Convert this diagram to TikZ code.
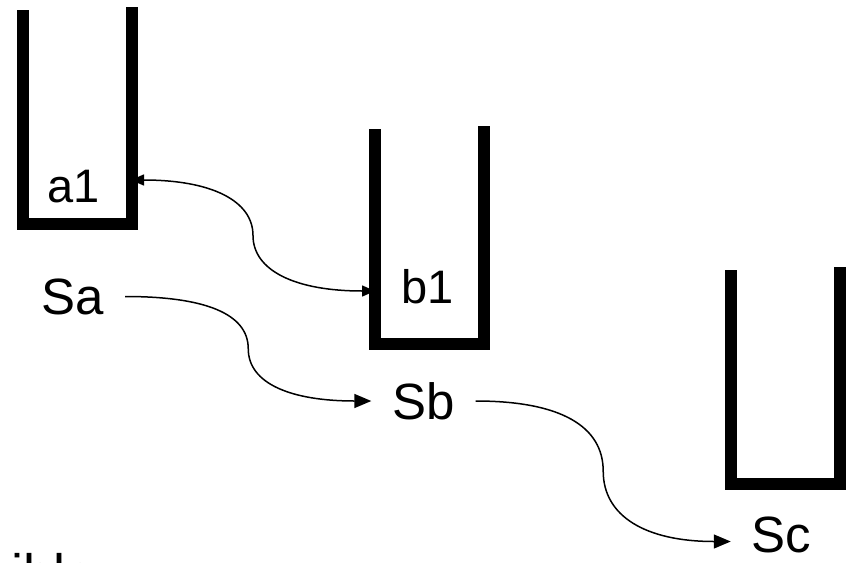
\documentclass[tikz,border=0pt]{standalone}
\usepackage{fontspec}
\setmainfont{Liberation Sans}
\usetikzlibrary{calc,arrows.meta}
\def\tray(#1,#2,#3){\draw[tray] (#1,#2) -- (#1,#3) -- ({#1+108.5},#3) -- ({#1+108.5},{#2-3});}

\begin{document}
\begin{tikzpicture}[x=1pt,y=-1pt,
		tray/.style={line width=12pt, line join=miter},
		state/.style={inner sep=0pt, outer sep=21pt, font=\fontsize{51}{60}\selectfont},
		item/.style={inner sep=0pt, font=\fontsize{47}{56}\selectfont},
		flow/.style={line width=1.5pt, -{Triangle[length=17pt,width=14pt]}},
		link/.style={line width=1.5pt, {Triangle[length=13pt,width=11pt]}-{Triangle[length=13pt,width=11pt]}}]
		%%%%% START %%%%%
		
		\useasboundingbox (0,0) rectangle (851,562);
		
		\node[item] (a1) at (74,187) {a1};
		\node[item] (b1) at (427.5,287) {b1};
		\coordinate (Aport) at (131,180);
		\coordinate (Bport) at (375,291);
		
		\node[state] (Sa) at (73,296.5) {Sa};
		\node[state] (Sb) at (423.5,401) {Sb};
		\node[state] (Sc) at (781.5,534.5) {Sc};
		
		\node[anchor=base west, inner sep=0pt, font=\fontsize{54}{64}\selectfont] (note) at (-54.6,592) {visible};
		
		\draw[link] (Aport) .. controls +(80,0) and +(0,-35) .. ($(Aport)!.5!(Bport)$) .. controls +(0,35) and +(-80,0) .. (Bport);
		\draw[flow] (Sa.east) .. controls +(80,0) and +(0,-35) .. ($(Sa.east)!.5!(Sb.west)$) .. controls +(0,35) and +(-80,0) .. (Sb.west);
		\draw[flow] (Sb.east) .. controls +(85,0) and +(0,-45) .. ($(Sb.east)!.5!([yshift=-7pt]Sc.west)$) .. controls +(0,45) and +(-85,0) .. ([yshift=-7pt]Sc.west);
		
		\tray(23,10,224)
		\tray(375,129,343.5)
		\tray(731,270,484)
		
		%%%%% END %%%%%
\end{tikzpicture}
\end{document}
